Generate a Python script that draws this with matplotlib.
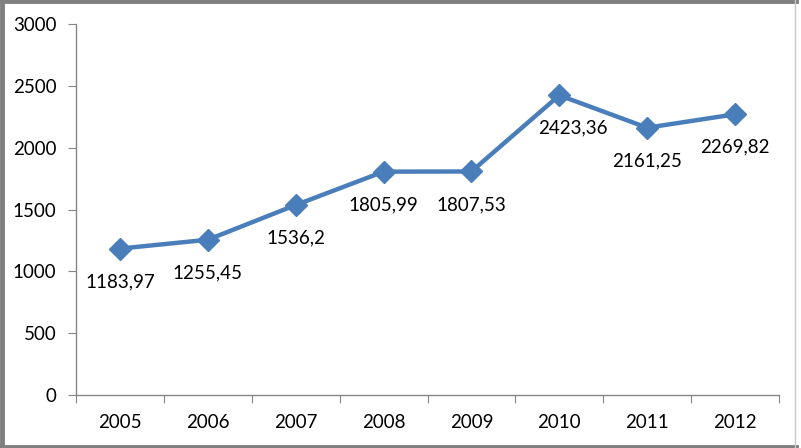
import matplotlib.pyplot as plt
from matplotlib.lines import Line2D

years = ["2005", "2006", "2007", "2008", "2009", "2010", "2011", "2012"]
values = [1183.97, 1255.45, 1536.2, 1805.99, 1807.53, 2423.36, 2161.25, 2269.82]
labels = ["1183,97", "1255,45", "1536,2", "1805,99", "1807,53", "2423,36", "2161,25", "2269,82"]

plt.rcParams['font.family'] = ['Lato', 'DejaVu Sans']
blue = "#4a7ebb"
gray = "#868686"
fs = 13.5

fig = plt.figure(figsize=(8.01, 4.48), dpi=100)
ax = fig.add_axes([76 / 801, 53 / 448, 703 / 801, 371 / 448])

x = list(range(len(years)))
ax.plot(x, values, color=blue, lw=3.2, marker="D", ms=11, mec=blue, mfc=blue)
for xi, v, lab in zip(x, values, labels):
    dx = 14 if xi == 5 else 0
    ax.annotate(lab, (xi, v), xytext=(dx, -33), textcoords="offset pixels",
                ha="center", va="center", fontsize=fs, color="black")

ax.set_xlim(-0.5, len(years) - 0.5)
ax.set_ylim(0, 3000)
ax.set_yticks(range(0, 3001, 500))
ax.set_xticks([i - 0.5 for i in range(len(years) + 1)])
ax.set_xticklabels([])
ax.set_xticks(x, minor=True)
ax.set_xticklabels(years, minor=True)
ax.tick_params(axis="x", which="major", length=6, color=gray, direction="out")
ax.tick_params(axis="x", which="minor", length=0, pad=14, labelsize=fs)
ax.tick_params(axis="y", length=6, color=gray, pad=8, labelsize=fs)

for s in ["top", "right"]:
    ax.spines[s].set_visible(False)
for s in ["left", "bottom"]:
    ax.spines[s].set_color(gray)
    ax.spines[s].set_linewidth(1)

# outer frame
fig.add_artist(Line2D([0.002, 0.002], [0, 1], transform=fig.transFigure, color="#7f7f7f", lw=3.5))
fig.add_artist(Line2D([0, 0.994], [0.997, 0.997], transform=fig.transFigure, color="#7f7f7f", lw=3.5))
fig.add_artist(Line2D([0, 0.994], [0.003, 0.003], transform=fig.transFigure, color="#7f7f7f", lw=3.5))
fig.add_artist(Line2D([0.993, 0.993], [0, 1], transform=fig.transFigure, color="#c8c8c8", lw=1))

fig.savefig("out.png", dpi=100)
